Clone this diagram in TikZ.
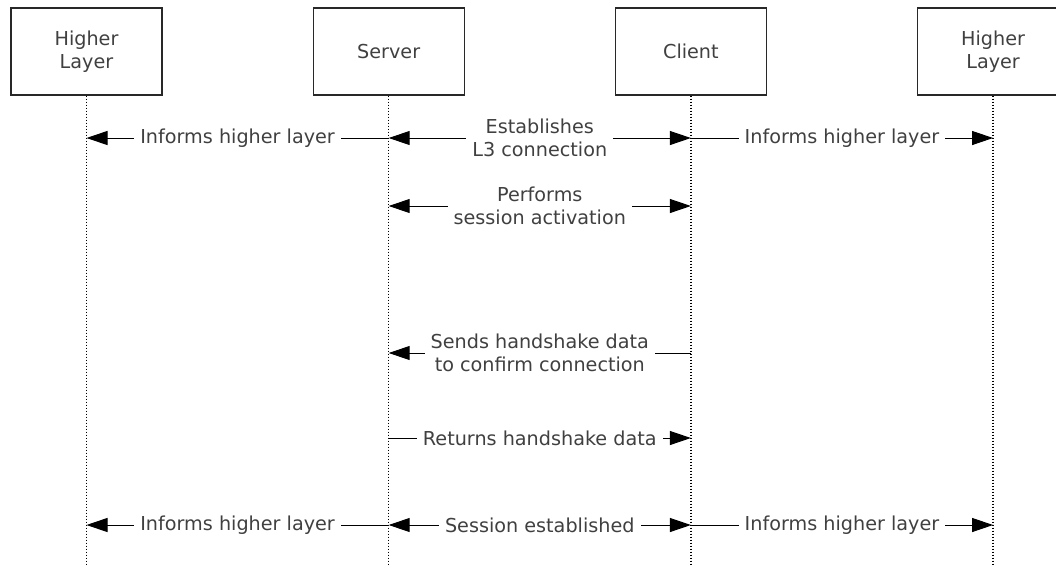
\documentclass[tikz,border=0pt]{standalone}
\usepackage{fontspec}
\setmainfont{DejaVu Sans}
\usetikzlibrary{arrows.meta,chains,positioning}

\definecolor{textgray}{RGB}{64,64,64}
\definecolor{boxgray}{RGB}{40,40,40}

\tikzset{
  lifeline/.style={draw=black, line width=0.65pt, dash pattern=on 0.75pt off 0.75pt},
  msg/.style={draw, line width=0.5pt, -{Triangle[length=10.5pt,width=7pt]}},
  msg-both/.style={draw, line width=0.5pt,
    {Triangle[length=10.5pt,width=7pt]}-{Triangle[length=10.5pt,width=7pt]}},
  msg-label/.style={fill=white, text=textgray, align=center,
    inner xsep=3pt, inner ysep=0.5pt},
}

\begin{document}
\begin{tikzpicture}[x=0.5pt, y=-0.5pt, font=\fontsize{9.6pt}{11.25pt}\selectfont]
  \useasboundingbox (0,0) rectangle (1056,564);
  \clip (0,0) rectangle (1056,564);
  \begin{scope}[
    every node/.style={
      draw=boxgray,
      line width=0.6pt,
      on chain,
      text=textgray,
      align=center,
      inner sep=0pt,
      minimum width=75.5pt,
      minimum height=43.5pt,
    },
    node distance=75pt,
    start chain=going right,
    ]
    \node at (86.5,51.5) (higher-left) {Higher\\Layer};
    \node (server)       {Server};
    \node (client)       {Client};
    \node (higher-right) {Higher\\Layer};
  \end{scope}
  \coordinate (bottom)        at (0,564);
  \coordinate (row-l3)        at (0,138);
  \coordinate (row-activate)  at (0,206);
  \coordinate (row-confirm)   at (0,353);
  \coordinate (row-return)    at (0,438);
  \coordinate (row-session)   at (0,525);
  \foreach \lane in {higher-left,server,client,higher-right}
    \path[lifeline] (\lane.south) -- (\lane.south |- bottom);
  \begin{scope}[every node/.style={msg-label}]
    \path[msg] (server |- row-l3) -- node {Informs higher layer} (higher-left |- row-l3);
    \path[msg-both] (server |- row-l3) -- node {Establishes\\L3 connection} (client |- row-l3);
    \path[msg] (client |- row-l3) -- node {Informs higher layer} (higher-right |- row-l3);
    \path[msg-both] (server |- row-activate) -- node {Performs\\session activation} (client |- row-activate);
    \path[msg] (client |- row-confirm) -- node {Sends handshake data\\to confirm connection} (server |- row-confirm);
    \path[msg] (server |- row-return) -- node {Returns handshake data} (client |- row-return);
    \path[msg] (server |- row-session) -- node {Informs higher layer} (higher-left |- row-session);
    \path[msg-both] (server |- row-session) -- node {Session established} (client |- row-session);
    \path[msg] (client |- row-session) -- node {Informs higher layer} (higher-right |- row-session);
  \end{scope}
\end{tikzpicture}
\end{document}
